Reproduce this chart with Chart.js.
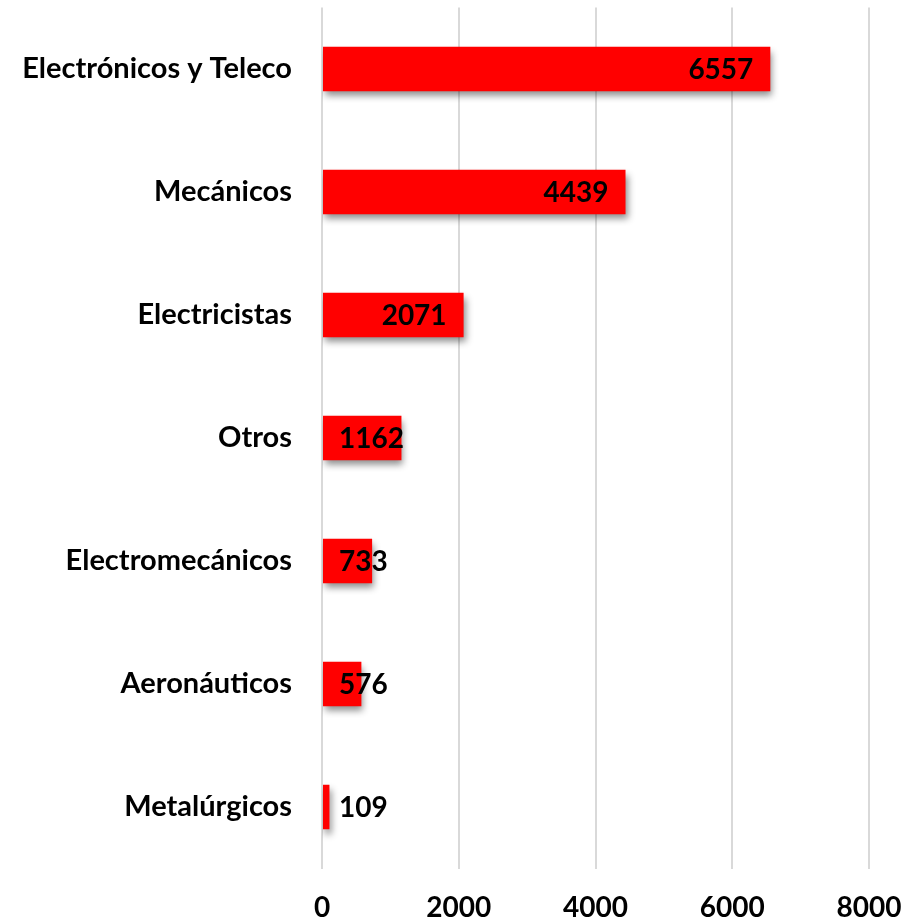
<!DOCTYPE html>
<html><head><meta charset="utf-8">
<script src="https://cdn.jsdelivr.net/npm/chart.js@4/dist/chart.umd.min.js"></script>
<style>html,body{margin:0;padding:0;background:#fff}#wrap{width:906px;height:922px}</style>
</head><body><div id="wrap"><canvas id="c" width="906" height="922"></canvas></div>
<script>
const categories = ["Electrónicos y Teleco","Mecánicos","Electricistas","Otros","Electromecánicos","Aeronáuticos","Metalúrgicos"];
const values = [6557,4439,2071,1162,733,576,109];
const xTicks = [0,2000,4000,6000,8000];

const FONT = "Lato, 'Open Sans', sans-serif";

const shadowPlugin = {
  id:'shadow',
  beforeDatasetsDraw(chart){const c=chart.ctx;c.save();c.shadowColor='rgba(0,0,0,0.45)';c.shadowBlur=7;c.shadowOffsetX=2;c.shadowOffsetY=5;},
  afterDatasetsDraw(chart){chart.ctx.restore();}
};
const labelPlugin = {
  id:'lbl',
  afterDatasetsDraw(chart){
    const c=chart.ctx; const meta=chart.getDatasetMeta(0);
    c.save(); c.font="bold 28px "+FONT; c.fillStyle='#000'; c.textBaseline='middle'; c.textAlign='right';
    meta.data.forEach((el,i)=>{
      const t=String(values[i]); const w=c.measureText(t).width;
      const base=el.base; let r=el.x-17; if(r-w<base+16) r=base+16+w;
      c.fillText(t,r,el.y+1);
    });
    c.restore();
  }
};
new Chart(document.getElementById('c'),{
  type:'bar',
  data:{labels:categories,datasets:[{data:values,backgroundColor:'#ff0000',borderWidth:0,barPercentage:0.36,categoryPercentage:1}]},
  options:{
    indexAxis:'y',responsive:false,animation:false,
    layout:{padding:{top:7.5,right:37,bottom:0,left:0}},
    plugins:{legend:{display:false},tooltip:{enabled:false}},
    scales:{
      x:{min:0,max:8000,afterBuildTicks(s){s.ticks=xTicks.map(v=>({value:v}));},
        grid:{color:'#d9d9d9',lineWidth:2,drawTicks:false},border:{display:false},
        ticks:{padding:23,color:'#000',font:{family:FONT,size:28,weight:'bold'},callback:(v)=>String(v)},
        afterFit(s){s.height=53.5;s.paddingLeft=0;s.paddingRight=0;}},
      y:{grid:{display:false,drawTicks:false},border:{display:false},
        ticks:{padding:30,color:'#000',font:{family:FONT,size:29,weight:'bold'}},
        afterFit(s){s.width=322;s.paddingTop=0;s.paddingBottom=0;}}
    }
  },
  plugins:[shadowPlugin,labelPlugin]
});
</script></body></html>
